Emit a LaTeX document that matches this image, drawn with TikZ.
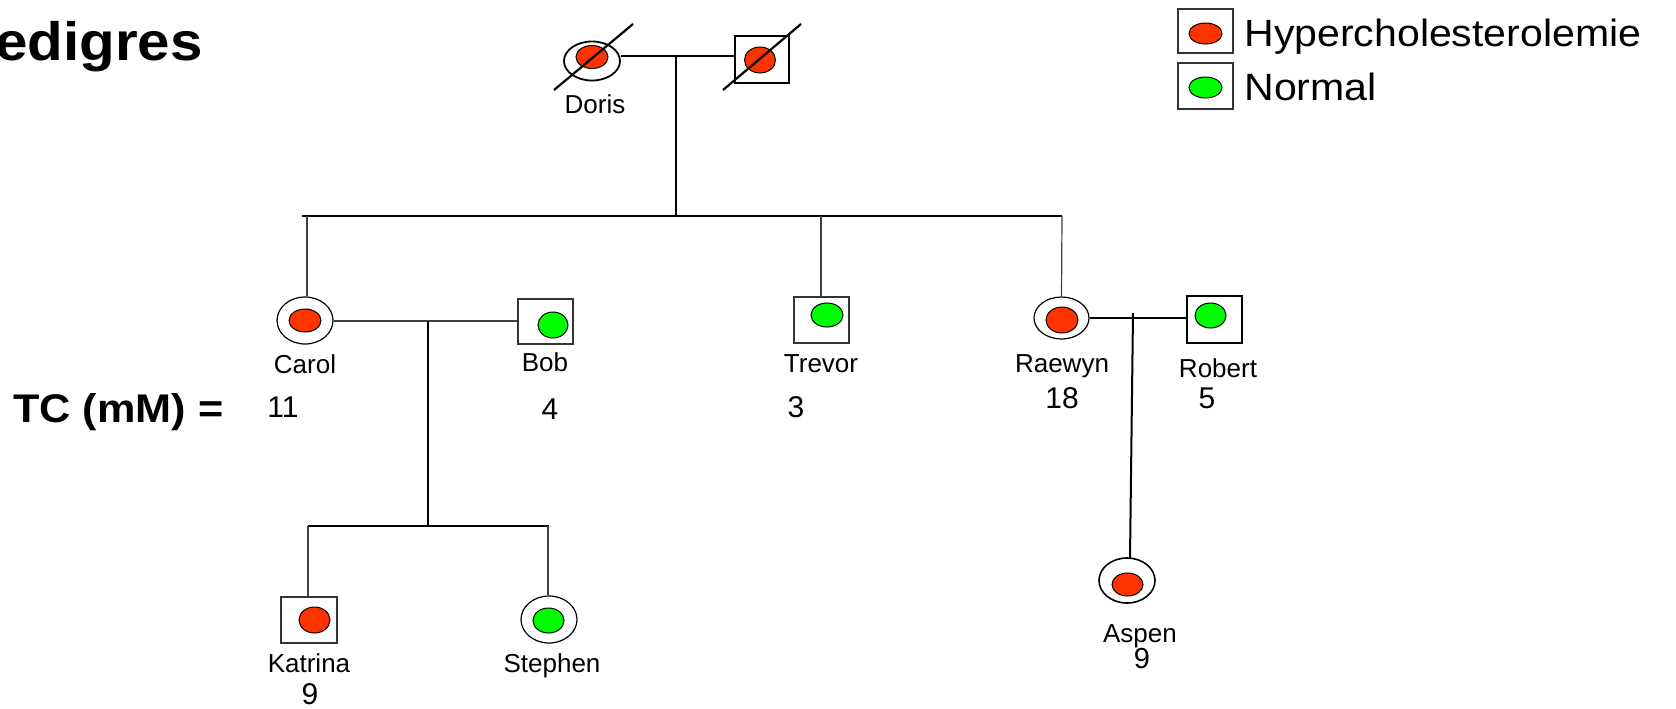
\documentclass[tikz,border=0pt]{standalone}
\usepackage{fontspec}
\setmainfont{Liberation Sans}
\newfontfamily\legfont[FakeStretch=1.08]{Liberation Sans}
\usetikzlibrary{shapes.geometric}
\definecolor{hred}{RGB}{255,51,0}
\definecolor{ngreen}{RGB}{0,255,0}
\tikzset{
  fem/.style={ellipse, draw=black, line width=0.6pt, inner sep=0pt},
  mal/.style={rectangle, draw=black!80, line width=0.6pt, inner sep=0pt},
  dotr/.style={ellipse, draw=black, line width=0.5pt, fill=hred, inner sep=0pt},
  dotg/.style={ellipse, draw=black, line width=0.5pt, fill=ngreen, inner sep=0pt},
  nm/.style={anchor=base, inner sep=0pt, font=\fontsize{13}{15}\selectfont},
  num/.style={anchor=base, inner sep=0pt, font=\fontsize{15}{17}\selectfont},
  leg/.style={anchor=base west, inner sep=0pt, font=\legfont\fontsize{19}{22}\selectfont},
  thk/.style={line width=1pt, black},
  thn/.style={line width=0.6pt, black!75},
}
\begin{document}
\begin{tikzpicture}[x=0.5pt, y=-0.5pt]
\clip (0,0) rectangle (1676,708);
\fill[white] (0,0) rectangle (1676,708);

% title and side label
\node[anchor=base west, inner sep=0pt, font=\legfont\bfseries\fontsize{27}{31}\selectfont] (title) at (-5,60) {edigres};
\node[anchor=base west, inner sep=0pt, font=\legfont\bfseries\fontsize{20}{23}\selectfont] (tc) at (13,422) {TC (mM) =};

% legend
\node[mal, minimum width=27.5pt, minimum height=22pt] (lb1) at (1205.5,31) {};
\node[dotr, minimum width=16.5pt, minimum height=10.5pt] (ld1) at (1205.5,33.5) {};
\node[mal, minimum width=27.5pt, minimum height=23pt] (lb2) at (1205.5,86) {};
\node[dotg, minimum width=16.5pt, minimum height=10.5pt] (ld2) at (1205.5,87.5) {};
\node[leg] (lt1) at (1244,46) {Hypercholesterolemie};
\node[leg] (lt2) at (1244,100) {Normal};

% generation I
\node[fem, line width=0.9pt, minimum width=28pt, minimum height=19.5pt] (doris) at (592,61) {};
\node[dotr, minimum width=16pt, minimum height=11.5pt] (dorisd) at (592,57) {};
\node[mal, draw=black, line width=0.9pt, minimum width=27pt, minimum height=23.5pt] (dhus) at (762,59.5) {};
\node[dotr, minimum width=15.5pt, minimum height=13pt] (dhusd) at (760,60) {};
\node[nm] (dorist) at (595,113) {Doris};
\coordinate (s1a) at (554,90); \coordinate (s1b) at (633,24);
\coordinate (s2a) at (723,90); \coordinate (s2b) at (801,24);
\draw[line width=1.1pt] (s1a) -- (s1b);
\draw[line width=1.1pt] (s2a) -- (s2b);
\coordinate (m1) at (676,56);
\coordinate (sib1) at (676,216);
\draw[thk] (doris.east |- m1) -- (dhus.west |- m1);
\draw[thk] (m1) -- (sib1);

% generation II
\node[fem, minimum width=28pt, minimum height=23.5pt] (carol) at (305,320.5) {};
\node[dotr, minimum width=16pt, minimum height=11.5pt] (carold) at (305,320.5) {};
\node[mal, minimum width=27.5pt, minimum height=22.5pt] (bob) at (545.5,321.5) {};
\node[dotg, minimum width=15pt, minimum height=13pt] (bobd) at (553,325) {};
\node[mal, minimum width=27.5pt, minimum height=23pt] (trevor) at (821.5,320) {};
\node[dotg, minimum width=16pt, minimum height=12pt] (trevord) at (827,315) {};
\node[fem, minimum width=27.5pt, minimum height=21pt] (raewyn) at (1061.5,318) {};
\node[dotr, minimum width=16pt, minimum height=13pt] (raewynd) at (1062,320) {};
\node[mal, draw=black, line width=0.9pt, minimum width=27.5pt, minimum height=23.5pt] (robert) at (1214.5,319.5) {};
\node[dotg, minimum width=15.5pt, minimum height=12.5pt] (robertd) at (1210.5,315.5) {};

\coordinate (sibL) at (302,216);
\coordinate (sibR) at (1062,216);
\draw[thk] (sibL) -- (sibR);
\coordinate (ctop) at (307,216);
\draw[thn] (ctop) -- (ctop |- carol.north);
\coordinate (ttop) at (821,216);
\draw[thn] (ttop) -- (ttop |- trevor.north);
\draw[thn] (sibR) -- (raewyn.north);

\node[nm] (carolt) at (305,373) {Carol};
\node[nm] (bobt) at (545,371) {Bob};
\node[nm] (trevort) at (821,372) {Trevor};
\node[nm] (raewynt) at (1062,372) {Raewyn};
\node[nm] (robertt) at (1218,377) {Robert};
\node[num] (n11) at (283,417) {11};
\node[num] (n4) at (550,419) {4};
\node[num] (n3) at (796,417) {3};
\node[num] (n18) at (1062,408) {18};
\node[num] (n5) at (1207,408) {5};

% couples in generation II
\coordinate (m2) at (428,321);
\draw[thn] (carol.east |- m2) -- (bob.west |- m2);
\coordinate (sib2) at (428,526);
\draw[thk] (m2) -- (sib2);
\coordinate (m3) at (1133,313);
\coordinate (m3y) at (1133,318);
\draw[thk] (raewyn.east |- m3y) -- (robert.west |- m3y);

% generation III
\node[mal, minimum width=28pt, minimum height=23pt] (katrina) at (309,620) {};
\node[dotr, minimum width=15.5pt, minimum height=13pt] (katrinad) at (314.5,620) {};
\node[fem, minimum width=28pt, minimum height=23.5pt] (stephen) at (549,619.5) {};
\node[dotg, minimum width=15.5pt, minimum height=12.5pt] (stephend) at (548.5,620.5) {};
\node[fem, line width=0.8pt, minimum width=28pt, minimum height=22.5pt] (aspen) at (1127,580.5) {};
\node[dotr, minimum width=15.5pt, minimum height=11.5pt] (aspend) at (1127.5,584.5) {};

\coordinate (sib2L) at (308,526);
\coordinate (sib2R) at (549,526);
\draw[thk] (sib2L) -- (sib2R);
\draw[thn] (sib2L) -- (sib2L |- katrina.north);
\coordinate (stop) at (548,526);
\draw[thn] (stop) -- (stop |- stephen.north);
\coordinate (abot) at (1130,558);
\draw[thk] (m3) -- (abot);

\node[nm] (katrinat) at (309,672) {Katrina};
\node[nm] (stephent) at (552,672) {Stephen};
\node[nm] (aspent) at (1140,642) {Aspen};
\node[num] (n9a) at (310,704) {9};
\node[num, font=\fontsize{14.5}{17}\selectfont] (n9b) at (1142,668) {9};
\end{tikzpicture}
\end{document}
